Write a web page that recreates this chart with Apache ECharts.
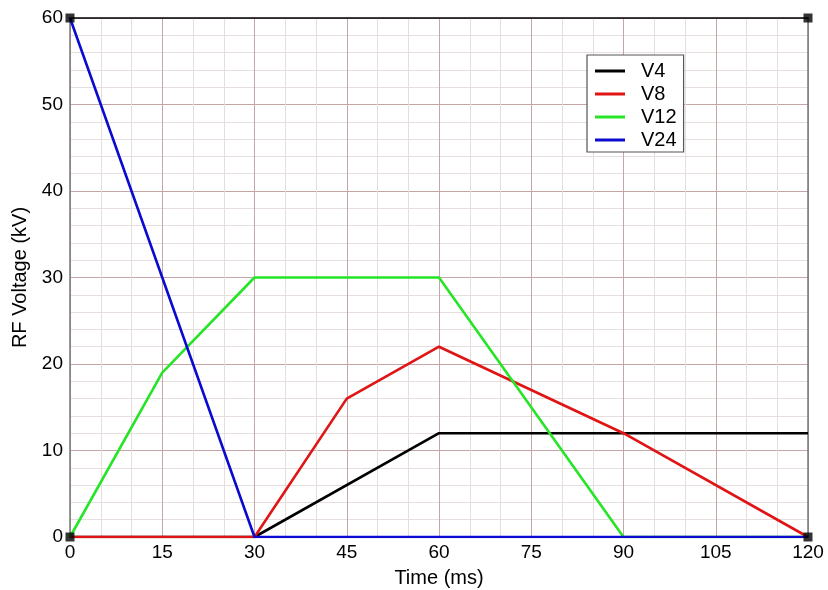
<!DOCTYPE html>
<html><head><meta charset="utf-8">
<script src="https://cdn.jsdelivr.net/npm/echarts@6/dist/echarts.min.js"></script>
<style>html,body{margin:0;padding:0;background:#fff}#c{width:828px;height:590px}</style>
</head><body><div id="c"></div>
<script>
const seriesNames = ['V4', 'V8', 'V12', 'V24'];
const seriesColors = ['#000000', '#e01414', '#26e426', '#0a0ad0'];
const v4 = [[0,0],[30,0],[60,12],[120,12]];
const v8 = [[0,0],[30,0],[45,16],[60,22],[90,12],[120,0]];
const v12 = [[0,0],[15,19],[30,30],[60,30],[90,0],[120,0]];
const v24 = [[0,60],[30,0],[120,0]];
const corners = [[0,60],[120,60],[0,0],[120,0]];
const xTicks = [0,15,30,45,60,75,90,105,120];
const yTicks = [0,10,20,30,40,50,60];

const font = 'Liberation Sans, Arial, sans-serif';
const chart = echarts.init(document.getElementById('c'), null, {renderer:'canvas'});
const data = [v4, v8, v12, v24];
const series = data.map((d,i)=>({
  name: seriesNames[i], type:'line', data:d, showSymbol:false, symbol:'none',
  lineStyle:{color:seriesColors[i], width:2.6}, itemStyle:{color:seriesColors[i]},
  z: 3 + i, animation:false
}));
series.push({type:'scatter', data:corners, symbol:'rect', symbolSize:9,
  itemStyle:{color:'#000'}, z:10, silent:true, animation:false});
chart.setOption({
  animation:false,
  grid:{left:70, right:20, top:18, bottom:53, containLabel:false, outerBoundsMode:'none'},
  legend:{
    data: seriesNames.map(n=>({name:n, icon:'rect'})),
    orient:'vertical', left:587, top:55,
    itemWidth:30, itemHeight:3, itemGap:3,
    borderColor:'#555', borderWidth:1.2, padding:[6,7,2,8],
    backgroundColor:'#fff',
    textStyle:{fontFamily:font, fontSize:20, lineHeight:20, color:'#000', padding:[0,0,0,11]}
  },
  xAxis:[{
    type:'value', min:0, max:120, interval:15,
    name:'Time (ms)', nameLocation:'middle', nameGap:31,
    nameTextStyle:{fontFamily:font, fontSize:20, color:'#000'},
    axisLine:{show:true, onZero:false, lineStyle:{color:'#555', width:1.5}},
    axisTick:{show:false},
    axisLabel:{fontFamily:font, fontSize:19, color:'#000', margin:6, formatter: v=> xTicks.includes(v)? String(v):''},
    splitLine:{show:true, lineStyle:{color:'#c6a6a6', width:1}},
    minorTick:{show:false, splitNumber:3},
    minorSplitLine:{show:true, lineStyle:{color:'#e6dddd', width:1}}
  },{
    type:'value', position:'top', min:0, max:120, interval:15,
    axisLine:{show:true, onZero:false, lineStyle:{color:'#000', width:1.5}},
    axisTick:{show:false}, axisLabel:{show:false}, splitLine:{show:false}
  }],
  yAxis:[{
    type:'value', min:0, max:60, interval:10,
    name:'RF Voltage (kV)', nameLocation:'middle', nameGap:37,
    nameTextStyle:{fontFamily:font, fontSize:20, color:'#000'},
    axisLine:{show:true, onZero:false, lineStyle:{color:'#777', width:1.5}},
    axisTick:{show:false},
    axisLabel:{fontFamily:font, fontSize:19, color:'#000', margin:7, formatter: v=> yTicks.includes(v)? String(v):''},
    splitLine:{show:true, lineStyle:{color:'#c6a6a6', width:1}},
    minorTick:{show:false, splitNumber:5},
    minorSplitLine:{show:true, lineStyle:{color:'#e6dddd', width:1}}
  },{
    type:'value', position:'right', min:0, max:60, interval:10,
    axisLine:{show:true, onZero:false, lineStyle:{color:'#777', width:1.5}},
    axisTick:{show:false}, axisLabel:{show:false}, splitLine:{show:false}
  }],
  series: series
});
</script></body></html>
